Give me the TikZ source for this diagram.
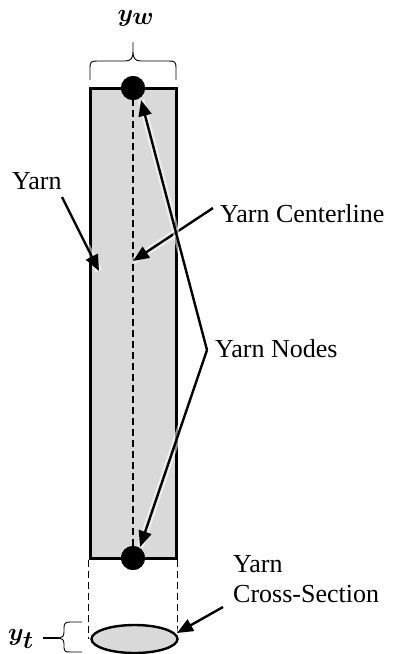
\documentclass[tikz,border=0pt]{standalone}
\usepackage{fontspec}
\setmainfont{Liberation Serif}
\usepackage{bm}
\usetikzlibrary{arrows.meta,shapes.geometric}
\definecolor{yarngray}{RGB}{217,217,217}
\begin{document}
\begin{tikzpicture}[x=1pt,y=-1pt,
  lbl/.style={font=\fontsize{26}{30}\selectfont, inner sep=0pt},
  mathlbl/.style={font=\fontsize{34}{38}\selectfont, inner sep=0pt},
  pointer/.style={line width=2.4pt, -{Triangle[length=16pt,width=13pt]},
     preaction={draw=white, line width=7pt, opacity=0.55, -}},
  bracepath/.style={line width=0.9pt},
  guide/.style={dashed, dash pattern=on 7pt off 4pt, line width=1.1pt}]
\useasboundingbox (0,0) rectangle (392,654);

% yarn body
\node[draw, line width=3pt, fill=yarngray, inner sep=0pt,
      minimum width=86pt, minimum height=470pt] (rect) at (133,323) {};
% centerline
\node[circle, fill=black, inner sep=0pt, minimum size=24pt] (top) at (133,88) {};
\node[circle, fill=black, inner sep=0pt, minimum size=24pt] (bot) at (133,558) {};
\draw[guide] (top.center) -- (bot.center);

% cross-section
\node[ellipse, draw, line width=2.4pt, fill=yarngray, inner sep=0pt,
      minimum width=86pt, minimum height=28pt] (ell) at (134.5,639) {};
\draw[guide] (rect.south west) -- (rect.south west |- ell.center);
\draw[guide] (rect.south east) -- (rect.south east |- ell.center);

% redraw dots above guide
\fill[black] (top) circle (12pt);
\fill[black] (bot) circle (12pt);

% y_w brace
\node[mathlbl] (yw) at (136,18) {$\bm{y}_{\bm{w}}$};
\draw[bracepath] (90,80) -- (90,68) .. controls (90,61) and (92,61) .. (98,61)
  -- (125,61) .. controls (131,61) and (133,58) .. (133,52) -- (133,42)
  -- (133,52) .. controls (133,58) and (135,61) .. (141,61)
  -- (168,61) .. controls (174,61) and (176,61) .. (176,68) -- (176,80);

% y_t brace
\node[mathlbl] (yt) at (21,639) {$\bm{y}_{\bm{t}}$};
\coordinate (brtip) at (59,638);
\draw[line width=1.4pt] (43,638) coordinate (dashA) -- (brtip);
\draw[bracepath] (82,622) -- (70,622) .. controls (65,622) and (64,624) .. (64,628)
  -- (64,632) .. controls (64,636) and (62,638) .. (59,638)
  .. controls (62,638) and (64,640) .. (64,644) -- (64,648)
  .. controls (64,651) and (65,652) .. (70,652) -- (82,652);

% labels
\node[lbl, anchor=base west] (yarnlbl) at (12,189) {Yarn};
\node[lbl, anchor=base west] (cllbl) at (220,222) {Yarn Centerline};
\node[lbl, anchor=base west] (nodeslbl) at (215,357) {Yarn Nodes};
\node[lbl, anchor=base west, align=left] (cslbl) at (233,602) {Yarn\\Cross-Section};

% pointers
\coordinate (yarnA) at (62,197);
\coordinate (yarnB) at (99,271);
\coordinate (clA) at (213,208);
\coordinate (clB) at (133,261);
\coordinate (apex) at (207,350);
\coordinate (topB) at (141,100);
\coordinate (botB) at (140,547);
\coordinate (csA) at (223,607);
\coordinate (csB) at (177,633);

\draw[pointer] (yarnA) -- (yarnB);
\draw[pointer] (clA) -- (clB);
\draw[pointer] (apex) -- (topB);
\draw[pointer] (apex) -- (botB);
\draw[pointer] (csA) -- (csB);
\end{tikzpicture}
\end{document}
